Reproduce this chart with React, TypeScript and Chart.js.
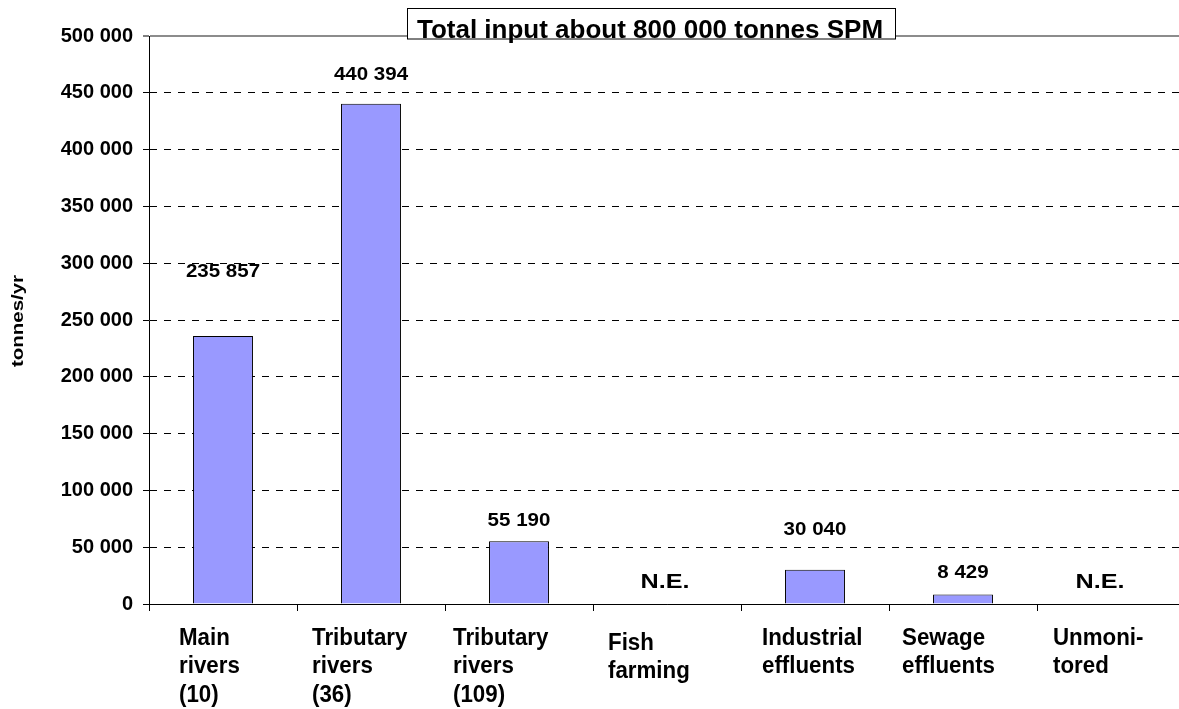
import React, { useEffect, useRef } from "react";
import { Chart, registerables } from "chart.js";

Chart.register(...registerables);

// ---- data ----
const categories: string[][] = [
  ["Main", "rivers", "(10)"],
  ["Tributary", "rivers", "(36)"],
  ["Tributary", "rivers", "(109)"],
  ["Fish", "farming"],
  ["Industrial", "effluents"],
  ["Sewage", "effluents"],
  ["Unmoni-", "tored"],
];
const values: (number | null)[] = [235857, 440394, 55190, null, 30040, 8429, null];
const yTicks = [0, 50000, 100000, 150000, 200000, 250000, 300000, 350000, 400000, 450000, 500000];
const titleText = "Total input about 800 000 tonnes SPM";
const yAxisTitle = "tonnes/yr";
const notEstimated = "N.E.";

// ---- styling (pixel offsets, not data) ----
const FONT = '"Liberation Sans", Arial, sans-serif';
const labelLift = [64, 29, 20, 22, 40, 21, 22];
const labelShiftX = [0, 0, 0, -2, 0, 0, -11];
const catLabelLeft = [-44, -59, -66, -59, -53, -61, -58];
const catLabelDown = [0, 0, 0, 5, 0, 0, 0];

const fmt = (v: number) => String(v).replace(/\B(?=(\d{3})+(?!\d))/g, " ");

function drawText(
  ctx: CanvasRenderingContext2D,
  text: string,
  x: number,
  y: number,
  size: number,
  sx: number,
  align: CanvasTextAlign,
  baseline: CanvasTextBaseline,
  rot = 0
) {
  ctx.save();
  ctx.translate(x, y);
  if (rot) ctx.rotate(rot);
  ctx.scale(sx, 1);
  ctx.font = `bold ${size}px ${FONT}`;
  ctx.fillStyle = "#000";
  ctx.textAlign = align;
  ctx.textBaseline = baseline;
  ctx.fillText(text, 0, 0);
  ctx.restore();
}

const overlayPlugin = {
  id: "overlay",
  afterDraw(chart: any) {
    const ctx: CanvasRenderingContext2D = chart.ctx;
    const xs = chart.scales.x;
    const ys = chart.scales.y;
    const zero = ys.getPixelForValue(0);

    // value labels
    values.forEach((v, i) => {
      const cx = xs.getPixelForValue(i) + labelShiftX[i];
      if (v === null) {
        drawText(ctx, notEstimated, cx, zero - labelLift[i], 21, 1.2, "center", "middle");
      } else {
        const top = ys.getPixelForValue(v);
        drawText(ctx, fmt(v), cx, top - labelLift[i], 18, 1.14, "center", "middle");
      }
    });

    // category labels (left aligned lines)
    categories.forEach((lines, i) => {
      const left = xs.getPixelForValue(i) + catLabelLeft[i];
      lines.forEach((ln, j) => {
        drawText(ctx, ln, left, zero + 40.5 + catLabelDown[i] + j * 28.5, 23, 0.97, "left", "alphabetic");
      });
    });

    // y axis title
    const midY = (chart.chartArea.top + chart.chartArea.bottom) / 2 + 1;
    drawText(ctx, yAxisTitle, 19, midY, 16, 1.28, "center", "middle", -Math.PI / 2);

    // title box
    ctx.save();
    ctx.fillStyle = "#fff";
    ctx.fillRect(407, 8, 489, 31);
    drawText(ctx, titleText, 650, 37.5, 26, 1.0, "center", "alphabetic");
    ctx.strokeStyle = "#000";
    ctx.lineWidth = 1;
    ctx.strokeRect(407.5, 8.5, 488, 30.5);
    ctx.restore();
  },
};

export default function App() {
  const ref = useRef<HTMLCanvasElement>(null);

  useEffect(() => {
    if (!ref.current) return;
    const chart = new Chart(ref.current, {
      type: "bar",
      data: {
        labels: categories.map((c) => c.join(" ")),
        datasets: [
          {
            data: values.map((v) => (v === null ? null : v)),
            backgroundColor: "#9999ff",
            borderColor: "#000",
            borderWidth: 1,
            barPercentage: 0.405,
            categoryPercentage: 1,
          },
        ],
      },
      options: {
        responsive: false,
        animation: false,
        devicePixelRatio: 1,
        layout: { padding: { top: 36, left: 0, right: 15, bottom: 0 } },
        plugins: { legend: { display: false }, tooltip: { enabled: false }, title: { display: false } },
        scales: {
          x: {
            type: "category",
            offset: true,
            grid: {
              offset: true,
              drawOnChartArea: false,
              drawTicks: true,
              tickLength: 7,
              color: "#000",
              tickColor: "#000",
              tickWidth: 1,
            },
            border: { display: true, color: "#000", width: 1 },
            ticks: { display: false },
            afterFit: (s: any) => {
              s.height = 105;
            },
          },
          y: {
            min: 0,
            max: 500000,
            afterBuildTicks: (s: any) => {
              s.ticks = yTicks.map((v) => ({ value: v }));
            },
            ticks: {
              padding: 10,
              color: "#000",
              font: { family: FONT, size: 20, weight: "bold" },
              callback: (v: any) => fmt(Number(v)),
            },
            grid: {
              tickLength: 6,
              tickColor: "#000",
              tickWidth: 1,
              color: (c: any) => (c.tick && c.tick.value === 500000 ? "#8c8c8c" : "#000"),
              lineWidth: (c: any) => (c.tick && c.tick.value === 500000 ? 2 : 1),
            },
            border: {
              display: true,
              color: "#000",
              width: 1,
              dash: (c: any) =>
                c.tick && c.tick.value !== 0 && c.tick.value !== 500000 ? [7, 7] : [],
            },
            afterFit: (s: any) => {
              s.width = 149;
            },
          },
        },
      },
      plugins: [overlayPlugin],
    } as any);
    return () => chart.destroy();
  }, []);

  return (
    <div
      style={{
        position: "fixed",
        left: 0,
        top: 0,
        width: 1179,
        height: 709,
        overflow: "hidden",
        background: "#fff",
      }}
    >
      <canvas ref={ref} width={1200} height={709} style={{ display: "block" }} />
    </div>
  );
}
